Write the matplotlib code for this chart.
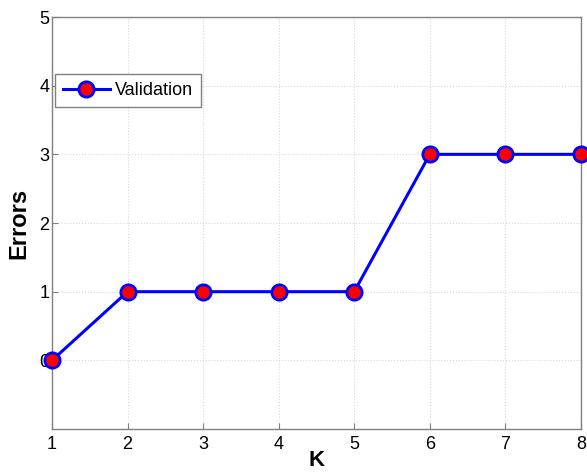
import matplotlib.pyplot as plt

# Data
k_values = [1, 2, 3, 4, 5, 6, 7, 8]
validation_errors = [0, 1, 1, 1, 1, 3, 3, 3]
x_ticks = [1, 2, 3, 4, 5, 6, 7, 8]
y_ticks = [0, 1, 2, 3, 4, 5]

plt.rcParams["font.family"] = ["Liberation Sans", "DejaVu Sans"]

fig = plt.figure(figsize=(5.87, 4.75), dpi=100)
ax = fig.add_axes([0.0886, 0.0968, 0.901, 0.8674])

ax.plot(k_values, validation_errors, color="#0000ff", linewidth=2.2,
        marker="o", markersize=11, markerfacecolor="#ff0000",
        markeredgecolor="#0000ff", markeredgewidth=2, label="Validation",
        clip_on=False, zorder=3)

ax.set_xlim(1, 8)
ax.set_ylim(-1, 5)
ax.set_xticks(x_ticks)
ax.set_yticks(y_ticks)
ax.tick_params(direction="in", labelsize=13, pad=5, length=4, color="#808080")
ax.tick_params(axis="y", pad=2)

for spine in ax.spines.values():
    spine.set_color("#808080")
    spine.set_linewidth(1.0)

ax.grid(True, linestyle=":", color="#d8d8d8", linewidth=0.8)

ax.set_xlabel("K", fontsize=16, fontweight="bold", labelpad=-2)
ax.set_ylabel("Errors", fontsize=17, fontweight="bold", labelpad=6)

leg = ax.legend(loc="upper left", bbox_to_anchor=(0.005, 0.862), fontsize=13,
                fancybox=False, framealpha=1, edgecolor="#808080",
                handlelength=2.6, borderpad=0.45, handletextpad=0.3,
                borderaxespad=0)
leg.get_frame().set_linewidth(1.0)

fig.savefig("out.png", dpi=100)
